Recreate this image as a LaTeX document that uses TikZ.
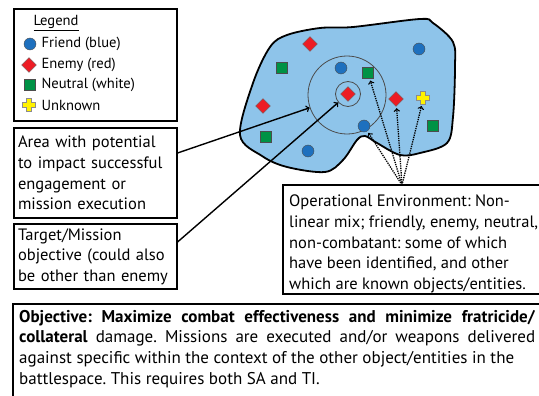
\documentclass[tikz,border=0pt]{standalone}
\usepackage{fontspec}
\setmainfont{PT Sans}
\usetikzlibrary{shapes.geometric}
\definecolor{envblue}{RGB}{142,196,234}
\definecolor{friendblue}{RGB}{30,112,190}
\definecolor{enemyred}{RGB}{237,28,36}
\definecolor{neutralgreen}{RGB}{0,146,69}
\definecolor{unkyellow}{RGB}{255,242,0}
\frenchspacing

\begin{document}
\begin{tikzpicture}[x=1pt,y=-1pt,>=to,
  every node/.style={font=\fontsize{16.5}{20.6}\selectfont},
  legend text/.style={anchor=west,font=\fontsize{14.6}{20.6}\selectfont},
  box/.style={rectangle,draw,line width=1.1pt,align=left,inner xsep=4pt,inner ysep=0pt},
  friend/.style={circle,draw=black!70,fill=friendblue,minimum size=12pt,inner sep=0pt},
  enemy/.style={diamond,draw=black!60,fill=enemyred,minimum size=15pt,inner sep=0pt},
  neutral/.style={rectangle,draw=black!70,fill=neutralgreen,minimum size=11pt,inner sep=0pt},
  plusmark/.pic={\draw[fill=unkyellow,draw=black!45,line width=0.6pt]
    (-2.5,-6.5) -- (2.5,-6.5) -- (2.5,-2.5) -- (6.5,-2.5) -- (6.5,2.5) -- (2.5,2.5)
    -- (2.5,6.5) -- (-2.5,6.5) -- (-2.5,2.5) -- (-6.5,2.5) -- (-6.5,-2.5) -- (-2.5,-2.5) -- cycle;},
  pointer/.style={->,line width=1.4pt},
  dotpointer/.style={->,densely dotted,line width=1.3pt,shorten >=2pt}]
  \useasboundingbox (0,0) rectangle (539,396);

  % operational environment
  \draw[fill=envblue,line width=1.8pt] plot[smooth cycle,tension=0.55] coordinates {
    (240,135) (253,83) (270,47) (287,35) (320,28) (353,27) (420,19) (433,23)
    (453,42) (455,67) (453,117) (447,143) (420,153) (400,155) (377,143)
    (365,136) (357,140) (343,160) (325,172) (287,167) (262,156)};
  \node[circle,draw=black!70,line width=0.8pt,minimum size=78pt] (zone) at (347,95) {};
  \node[circle,draw=black!70,line width=0.8pt,minimum size=25pt] (core) at (348,94) {};

  \node[enemy] (e1) at (310,44) {};
  \node[friend] (f1) at (419,49) {};
  \node[neutral] (n1) at (282,68) {};
  \node[friend] (f2) at (341,68) {};
  \node[neutral] (n2) at (368,73) {};
  \node[enemy] (e2) at (348,94) {};
  \node[enemy] (e3) at (396,99) {};
  \pic at (423,98) {plusmark};
  \coordinate (u1) at (422,104);
  \node[enemy] (e4) at (263,106) {};
  \node[friend] (f3) at (364,126) {};
  \node[neutral] (n3) at (433,126) {};
  \node[neutral] (n4) at (266,137) {};
  \node[friend] (f4) at (308,151) {};

  % legend
  \node[box,minimum width=163pt,minimum height=112pt] (legend) at (95.5,65) {};
  \node[legend text] (lgtitle) at (30,23) {\underline{Legend}};
  \node[friend] (lf) at (30,44) {};
  \node[legend text] (lft) at (38,44) {Friend (blue)};
  \node[enemy] (le) at (29,65) {};
  \node[legend text] (let) at (38,65) {Enemy (red)};
  \node[neutral] (ln) at (30,85) {};
  \node[legend text] (lnt) at (38,85) {Neutral (white)};
  \pic at (29,105) {plusmark};
  \node[legend text] (lut) at (38,105) {Unknown};

  % text boxes
  \node[box,text width=155pt,minimum height=90pt] (area) at (95.5,173)
    {Area with potential\\to impact successful\\engagement or\\mission execution};
  \node[box,text width=155pt,minimum height=65pt] (target) at (95.5,256.5)
    {Target/Mission\\objective (could also\\be other than enemy};
  \node[anchor=north west,align=left,inner sep=0pt] (oe) at (289,195)
    {Operational Environment: Non-\\linear mix; friendly, enemy, neutral,\\non-combatant: some of which\\have been identified, and other\\which are known objects/entities.};
  \draw[line width=1.1pt] (540,185) -- (283,185) -- (283,294) -- (540,294);
  \coordinate (oetop) at (402,185);

  \node[anchor=north west,text width=516pt,align=justify,inner sep=0pt,
    font=\fontsize{17}{20.6}\selectfont] (goal) at (19,310)
    {\textbf{Objective: Maximize combat effectiveness and minimize fratricide/}\linebreak
     \textbf{collateral} damage. Missions are executed and/or weapons delivered\linebreak
     against specific within the context of the other object/entities in the\newline
     battlespace. This requires both SA and TI.};
  \draw[line width=1.1pt] (540,304) -- (13,304) -- (13,397);

  % connectors
  \draw[pointer] (area.east |- 0,153) -- (zone);
  \draw[pointer] (target.east |- 0,242) -- (core);
  \draw[dotpointer] (oetop) -- (n2);
  \draw[dotpointer] (oetop) -- (e3);
  \draw[dotpointer] (oetop) -- (u1);
  \draw[dotpointer] (oetop) -- (f3);
\end{tikzpicture}
\end{document}
